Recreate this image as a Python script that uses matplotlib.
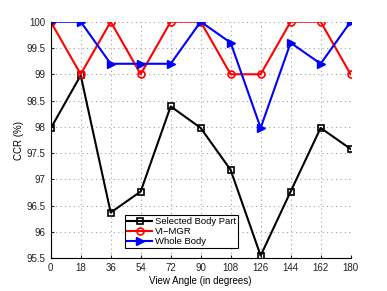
import matplotlib
matplotlib.use('Agg')
import matplotlib.pyplot as plt

plt.rcParams['font.family'] = ['Liberation Sans', 'DejaVu Sans']

angles = [0, 18, 36, 54, 72, 90, 108, 126, 144, 162, 180]
selected_part = [97.97, 98.98, 96.37, 96.77, 98.39, 97.98, 97.18, 95.55, 96.77, 97.98, 97.58]
vi_mgr = [100, 99, 100, 99, 100, 100, 99, 99, 100, 100, 99]
whole_body = [100, 100, 99.2, 99.2, 99.2, 100, 99.6, 97.98, 99.6, 99.2, 100]

fig = plt.figure(figsize=(3.87, 2.91), dpi=100)
ax = fig.add_axes([0.131, 0.1124, 0.775, 0.813])

ax.plot(angles, selected_part, 'k-s', lw=1.5, ms=4, mfc='none', mew=1.2, label='Selected Body Part')
ax.plot(angles, vi_mgr, 'r-o', lw=1.5, ms=5, mfc='none', mew=1.2, label='VI\u2212MGR')
ax.plot(angles, whole_body, 'b->', lw=1.5, ms=6, label='Whole Body')

ax.set_xlim(0, 180)
ax.set_ylim(95.5, 100)
ax.set_xticks(angles)
ax.set_yticks([95.5, 96, 96.5, 97, 97.5, 98, 98.5, 99, 99.5, 100])
ax.set_yticklabels(['95.5', '96', '96.5', '97', '97.5', '98', '98.5', '99', '99.5', '100'])
ax.tick_params(labelsize=7, length=2, direction='in', colors='#222222')
ax.grid(True, ls=(0, (1, 3)), color='#a0a0a0', lw=0.8)
ax.spines['top'].set_visible(False)
ax.spines['right'].set_visible(False)
ax.set_xlabel('View Angle (in degrees)', fontsize=7, labelpad=2)
ax.set_ylabel('CCR (%)', fontsize=7, labelpad=2)

leg = ax.legend(loc='lower left', bbox_to_anchor=(0.248, 0.042), fontsize=6.8, fancybox=False,
                edgecolor='black', framealpha=1, borderpad=0.25, labelspacing=0.1,
                handlelength=2.6, handletextpad=0.3, borderaxespad=0)
leg.get_frame().set_linewidth(0.8)

fig.savefig('out.png', dpi=100)
